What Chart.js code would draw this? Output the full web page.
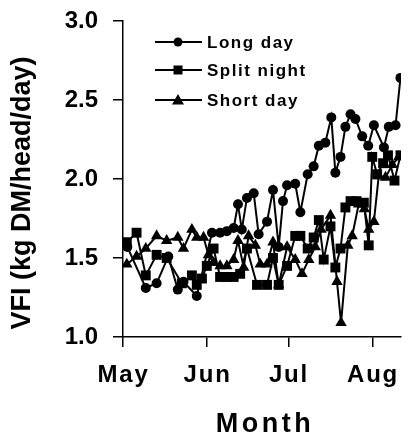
<!DOCTYPE html>
<html>
<head>
<meta charset="utf-8">
<script src="https://cdn.jsdelivr.net/npm/chart.js@4/dist/chart.umd.min.js"></script>
<style>
  html, body { margin: 0; padding: 0; background: #fff; }
  canvas { display: block; }
</style>
</head>
<body>
<canvas id="c" width="411" height="434"></canvas>
<script>
// Month ticks (days since 1 May) and labels
const monthTicks = [0, 31, 61, 92];
const monthLabels = ['May', 'Jun', 'Jul', 'Aug'];
const yTicks = [1.0, 1.5, 2.0, 2.5, 3.0];

// Long day
const longDayX = [1.6, 8.4, 12.4, 16.7, 20.2, 22.3, 27.2, 32.8, 35.8, 38.3, 40.8, 42.4, 43.8, 45.7, 48.2, 50.0, 53.1, 55.3, 57.4, 59.0, 60.5, 63.5, 65.4, 68.1, 70.3, 72.2, 74.6, 76.8, 78.3, 80.2, 82.0, 83.9, 85.7, 88.2, 90.4, 92.5, 96.2, 98.0, 100.5, 102.3];
const longDayY = [1.57, 1.31, 1.34, 1.51, 1.30, 1.35, 1.26, 1.66, 1.66, 1.67, 1.69, 1.84, 1.68, 1.88, 1.91, 1.65, 1.73, 1.93, 1.57, 1.86, 1.96, 1.97, 1.79, 2.03, 2.08, 2.21, 2.23, 2.39, 2.04, 2.14, 2.33, 2.41, 2.38, 2.27, 2.21, 2.34, 2.20, 2.33, 2.34, 2.64];

// Split night
const splitNightX = [1.4, 5.0, 8.4, 12.4, 16.1, 21.7, 25.4, 27.2, 29.1, 30.9, 33.4, 35.8, 38.3, 40.8, 43.2, 45.7, 49.4, 53.1, 55.3, 57.4, 60.5, 63.5, 65.4, 68.1, 70.3, 72.2, 74.0, 76.5, 78.3, 80.2, 82.0, 83.9, 86.1, 88.8, 90.6, 91.9, 93.7, 95.9, 97.7, 100.1, 102.3];
const splitNightY = [1.60, 1.66, 1.39, 1.52, 1.50, 1.34, 1.39, 1.33, 1.37, 1.45, 1.56, 1.38, 1.38, 1.38, 1.40, 1.56, 1.33, 1.33, 1.50, 1.33, 1.45, 1.64, 1.64, 1.56, 1.63, 1.74, 1.49, 1.70, 1.44, 1.56, 1.82, 1.86, 1.86, 1.85, 1.58, 2.14, 2.03, 2.10, 2.15, 1.99, 2.15];

// Short day
const shortDayX = [1.4, 5.0, 8.4, 12.4, 16.1, 20.2, 22.3, 25.4, 27.2, 29.7, 31.5, 33.4, 35.8, 38.3, 40.8, 42.4, 44.5, 46.3, 48.8, 50.6, 53.1, 55.3, 57.4, 60.5, 63.5, 66.0, 68.5, 70.9, 73.0, 76.5, 78.9, 80.4, 82.9, 84.5, 86.9, 89.0, 90.6, 92.5, 94.3, 96.8, 99.3, 101.7];
const shortDayY = [1.46, 1.51, 1.56, 1.64, 1.61, 1.63, 1.56, 1.68, 1.63, 1.63, 1.52, 1.47, 1.45, 1.45, 1.49, 1.61, 1.44, 1.64, 1.58, 1.46, 1.46, 1.60, 1.33, 1.57, 1.49, 1.40, 1.49, 1.57, 1.68, 1.77, 1.35, 1.09, 1.58, 1.64, 1.84, 1.81, 1.68, 1.73, 2.02, 2.01, 2.09, 2.14];

const toPoints = (xs, ys) => xs.map((x, i) => ({ x: x, y: ys[i] }));
const FONT = '"Liberation Sans", Arial, Helvetica, sans-serif';

// wrap a scale's drawing step with canvas letter spacing and an optional shift
function styled(scale, method, spacing, dx, dy) {
  if (scale['_wrapped_' + method]) return;
  const orig = scale[method];
  scale[method] = function () {
    const ctx = this.ctx;
    ctx.save();
    ctx.letterSpacing = spacing;
    ctx.translate(dx || 0, dy || 0);
    orig.apply(this, arguments);
    ctx.letterSpacing = '0px';
    ctx.restore();
  };
  scale['_wrapped_' + method] = true;
}

const insideLegend = {
  id: 'insideLegend',
  afterDatasetsDraw(chart) {
    const ctx = chart.ctx;
    const rows = [42, 70, 100];
    ctx.save();
    chart.data.datasets.forEach((ds, i) => {
      const y = rows[i];
      ctx.strokeStyle = '#000';
      ctx.lineWidth = 1.8;
      ctx.beginPath();
      ctx.moveTo(155, y);
      ctx.lineTo(202, y);
      ctx.stroke();
      ctx.fillStyle = '#000';
      const cx = 178;
      ctx.beginPath();
      if (ds.pointStyle === 'circle') {
        ctx.arc(cx, y, 4.5, 0, Math.PI * 2);
      } else if (ds.pointStyle === 'rect') {
        ctx.rect(cx - 4.5, y - 4.5, 9, 9);
      } else {
        ctx.moveTo(cx, y - 6);
        ctx.lineTo(cx + 6, y + 4.5);
        ctx.lineTo(cx - 6, y + 4.5);
        ctx.closePath();
      }
      ctx.fill();
      ctx.font = 'bold 17px ' + FONT;
      ctx.letterSpacing = '1.5px';
      ctx.textBaseline = 'middle';
      ctx.textAlign = 'left';
      ctx.fillText(ds.label, 207, y + 1);
      ctx.letterSpacing = '0px';
    });
    ctx.restore();
  }
};

const common = {
  borderColor: '#000',
  backgroundColor: '#000',
  pointBackgroundColor: '#000',
  pointBorderColor: '#000',
  borderWidth: 2,
  pointBorderWidth: 0,
  tension: 0,
  fill: false
};

new Chart(document.getElementById('c'), {
  type: 'line',
  data: {
    datasets: [
      Object.assign({ label: 'Long day', data: toPoints(longDayX, longDayY), pointStyle: 'circle', pointRadius: 5 }, common),
      Object.assign({ label: 'Split night', data: toPoints(splitNightX, splitNightY), pointStyle: 'rect', pointRadius: 7 }, common),
      Object.assign({ label: 'Short day', data: toPoints(shortDayX, shortDayY), pointStyle: 'triangle', pointRadius: 6.6 }, common)
    ]
  },
  options: {
    responsive: false,
    animation: false,
    devicePixelRatio: 1,
    layout: { padding: { top: 21, right: 10, left: 0, bottom: 0 } },
    plugins: { legend: { display: false }, tooltip: { enabled: false } },
    scales: {
      x: {
        type: 'linear',
        min: 0,
        max: 102.5,
        afterBuildTicks: (s) => { s.ticks = monthTicks.map(v => ({ value: v })); },
        afterFit: (s) => {
          s.height = 97; s.paddingLeft = 0; s.paddingRight = 0;
          styled(s, 'drawLabels', '1.8px', 0.5, 0);
          styled(s, 'drawTitle', '3.5px', 3, 0);
        },
        ticks: {
          callback: (v) => { const i = monthTicks.indexOf(v); return i >= 0 ? monthLabels[i] : ''; },
          font: { family: FONT, size: 24, weight: 'bold' },
          color: '#000',
          padding: 14,
          maxRotation: 0,
          autoSkip: false
        },
        grid: { display: true, drawOnChartArea: false, drawTicks: true, tickLength: 10, color: '#000', lineWidth: 1.5 },
        border: { display: true, color: '#000', width: 1.5 },
        title: { display: true, text: 'Month', color: '#000', font: { family: FONT, size: 27, weight: 'bold', lineHeight: 0.7 }, padding: { top: 0, bottom: 0 } }
      },
      y: {
        type: 'linear',
        min: 1,
        max: 3,
        afterBuildTicks: (s) => { s.ticks = yTicks.map(v => ({ value: v })); },
        afterFit: (s) => {
          s.width = 123; s.paddingTop = 0; s.paddingBottom = 0;
          styled(s, 'drawTitle', '0px', 0, 14);
        },
        ticks: {
          callback: (v) => v.toFixed(1),
          font: { family: FONT, size: 24, weight: 'bold' },
          color: '#000',
          padding: 15
        },
        grid: { display: true, drawOnChartArea: false, drawTicks: true, tickLength: 10, color: '#000', lineWidth: 1.5 },
        border: { display: true, color: '#000', width: 1.5 },
        title: { display: true, text: 'VFI (kg DM/head/day)', color: '#000', font: { family: FONT, size: 27, weight: 'bold', lineHeight: 1.2 }, padding: { top: 6, bottom: 0 } }
      }
    }
  },
  plugins: [insideLegend]
});
</script>
</body>
</html>
